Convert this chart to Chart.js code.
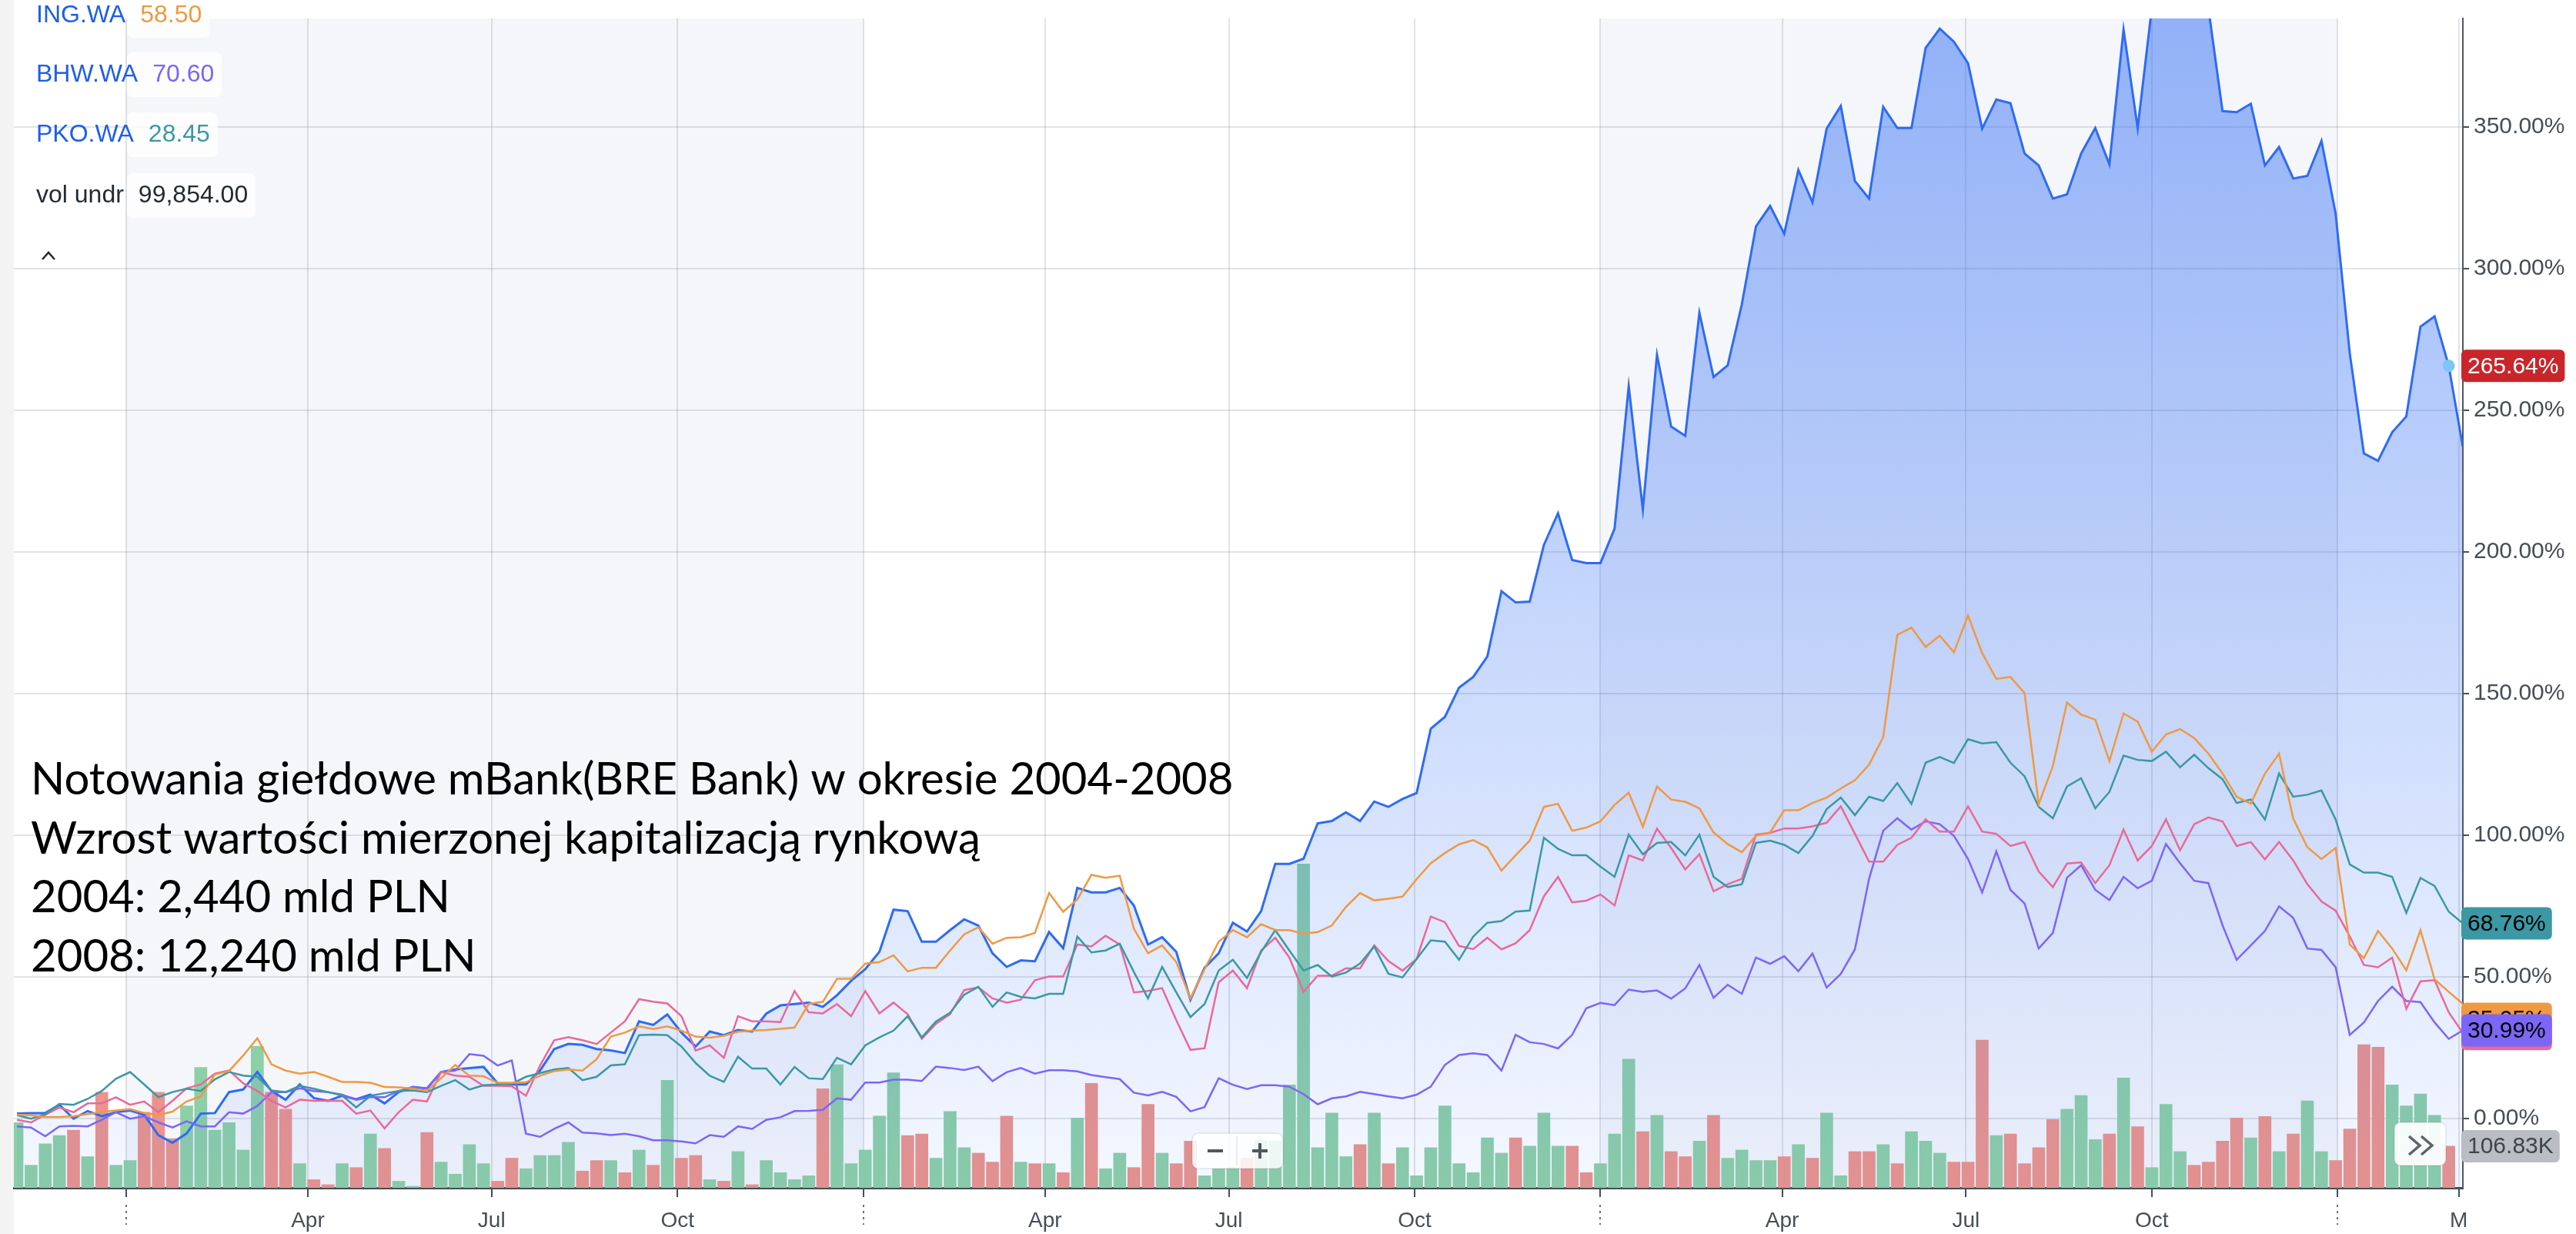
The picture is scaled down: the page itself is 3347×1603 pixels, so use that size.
<!DOCTYPE html>
<html lang="pl">
<head>
<meta charset="utf-8">
<title>Notowania mBank (BRE Bank) 2004-2008</title>
<script src="https://cdn.jsdelivr.net/npm/chart.js@4.4.1/dist/chart.umd.min.js"></script>
<style>
  html, body { margin: 0; padding: 0; background: #fff; }
  canvas { display: block; }
</style>
</head>
<body>
<canvas id="chart" width="3347" height="1603"></canvas>
<script>
// weekly points, the first one is the week of 2004-11-08
const startDay = "2004-11-08";

// % change since the start
const breVals = [
  1.6, 1.8, 1.8, 4.7, -0.2, 2.5, 0.7, 2.1, 2.7, 1.2,
  -6.0, -8.7, -5.4, 1.6, 1.8, 9.2, 10.1, 16.3, 9.6, 6.5,
  11.9, 7.1, 6.1, 7.9, 6.7, 8.3, 5.2, 9.2, 11.0, 10.5,
  16.3, 17.2, 17.7, 18.1, 12.3, 11.9, 11.9, 16.8, 24.4, 26.2,
  25.9, 24.4, 23.9, 23.0, 34.2, 32.9, 36.6, 30.2, 25.3, 30.6,
  29.3, 31.1, 30.6, 36.9, 39.8, 40.3, 40.8, 39.3, 43.4, 48.5,
  52.6, 58.7, 73.6, 73.1, 62.3, 62.3, 66.4, 70.2, 68.0, 58.2,
  53.4, 55.7, 55.4, 65.7, 60.0, 81.3, 79.7, 79.7, 81.3, 75.1,
  61.3, 63.9, 58.7, 41.8, 53.1, 58.2, 69.0, 65.9, 73.1, 89.8,
  89.8, 91.6, 104.1, 104.9, 108.0, 104.9, 111.8, 109.9, 112.7, 114.8,
  137.5, 141.7, 152.0, 155.8, 163.0, 186.1, 182.1, 182.4, 202.4, 213.6,
  197.1, 196.0, 196.0, 208.1, 258.4, 214.9, 269.5, 244.2, 240.9, 284.4,
  261.7, 265.8, 287.3, 314.9, 322.1, 312.3, 334.8, 323.4, 349.4, 357.4,
  330.9, 324.7, 357.1, 349.6, 349.6, 377.9, 384.7, 380.1, 372.5, 349.4,
  359.7, 358.4, 340.6, 336.4, 324.7, 326.2, 340.6, 349.6, 336.8, 384.4,
  349.6, 392, 398, 404, 400, 392, 355.6, 355.2, 358.2, 336.4,
  342.9, 331.8, 332.7, 345.1, 319.5, 270.1, 234.7, 232.1, 242.2, 247.8,
  279.5, 283.1, 265.64, 237.0
];
const ingVals = [
  1.2, 1.0, 0.4, 0.4, 0.7, 1.4, 2.2, 2.7, 3.2, 1.8,
  1.1, 2.3, 5.9, 7.7, 15.4, 16.6, 22.1, 28.2, 19.0, 16.8,
  15.7, 16.3, 14.6, 12.8, 12.8, 12.5, 11.0, 10.9, 10.5, 9.6,
  14.1, 18.8, 15.0, 14.8, 12.5, 12.5, 12.7, 15.0, 16.6, 17.2,
  16.8, 20.8, 28.8, 30.2, 32.4, 31.5, 32.4, 30.9, 28.8, 28.4,
  29.1, 30.5, 30.9, 31.1, 31.5, 32.0, 40.3, 41.1, 49.2, 49.2,
  54.6, 55.1, 57.5, 51.8, 53.1, 53.1, 59.2, 64.9, 67.4, 61.6,
  63.7, 63.9, 65.4, 79.5, 72.9, 77.2, 85.9, 84.9, 85.6, 66.9,
  58.2, 61.0, 55.1, 42.3, 52.6, 62.3, 66.4, 63.9, 68.5, 66.4,
  66.4, 65.1, 65.7, 68.0, 74.6, 79.5, 76.9, 77.5, 78.2, 84.4,
  90.0, 93.6, 96.7, 98.2, 95.6, 87.4, 92.8, 98.0, 109.9, 111.0,
  101.5, 102.6, 104.8, 110.6, 114.9, 102.9, 117.1, 112.5, 111.7, 109.4,
  100.9, 96.8, 93.9, 99.7, 100.9, 108.7, 108.7, 111.3, 113.2, 116.4,
  119.3, 124.8, 134.5, 170.7, 173.2, 166.4, 170.4, 164.5, 177.5, 164.2,
  155.1, 155.8, 150.1, 110.9, 124.3, 146.8, 142.5, 140.7, 126.1, 142.9,
  140.0, 129.4, 135.5, 137.4, 134.2, 128.7, 121.7, 113.5, 111.0, 121.7,
  128.7, 105.8, 95.7, 91.5, 95.4, 61.3, 56.5, 66.1, 59.9, 52.2,
  66.4, 49.0, 44.6, 40.3
];
const pkoVals = [
  1.0, -0.2, 1.4, 5.0, 4.7, 6.8, 9.6, 13.9, 16.3, 11.9,
  7.4, 9.2, 10.4, 9.6, 13.7, 16.3, 15.0, 14.6, 9.8, 9.2,
  11.4, 10.4, 9.2, 8.0, 3.8, 7.9, 8.8, 9.6, 9.8, 9.2,
  11.4, 13.4, 10.1, 11.6, 11.9, 12.1, 14.6, 15.9, 17.2, 17.7,
  13.4, 14.6, 18.6, 19.0, 29.3, 29.5, 29.3, 25.3, 19.5, 15.0,
  12.8, 21.7, 17.5, 17.5, 11.9, 18.1, 14.1, 13.8, 21.3, 19.0,
  25.7, 28.5, 30.9, 36.0, 28.5, 34.1, 37.2, 43.6, 46.4, 39.3,
  44.4, 42.8, 42.3, 43.9, 43.9, 64.1, 58.5, 59.2, 61.6, 51.6,
  42.3, 53.4, 44.4, 35.7, 40.3, 52.1, 55.9, 49.5, 58.7, 66.4,
  59.2, 52.1, 54.1, 50.0, 51.4, 54.6, 60.6, 51.0, 49.7, 56.2,
  62.8, 62.3, 55.9, 64.1, 69.0, 69.6, 72.9, 73.3, 99.0, 95.1,
  92.8, 92.8, 88.8, 85.2, 100.1, 93.2, 97.2, 97.5, 92.8, 100.1,
  85.2, 81.6, 82.6, 97.2, 98.0, 96.5, 93.6, 99.7, 109.1, 113.2,
  107.0, 113.5, 112.0, 118.3, 110.9, 125.5, 127.5, 125.4, 133.8, 132.3,
  132.8, 125.5, 120.7, 109.9, 105.9, 117.1, 120.0, 109.4, 115.2, 128.0,
  126.5, 126.1, 129.4, 123.9, 128.3, 123.6, 119.7, 111.3, 112.5, 105.5,
  121.7, 113.5, 114.2, 115.7, 105.5, 89.6, 86.7, 86.7, 85.2, 72.5,
  84.8, 82.0, 72.9, 68.76
];
// fifth compared symbol (pink line), its name is cut off in the picture
const pinkVals = [
  -0.6, -1.5, 1.2, 3.8, 2.1, 5.2, 5.2, 7.4, 4.7, 5.9,
  2.1, 6.1, 10.5, 11.9, 15.7, 16.8, 12.3, 9.6, 6.1, 3.8,
  6.5, 6.1, 6.1, 6.1, 1.6, 2.7, -3.6, 2.1, 6.5, 5.9,
  16.3, 15.0, 14.6, 11.4, 11.4, 11.3, 7.9, 18.6, 27.5, 28.6,
  27.5, 26.2, 30.2, 34.2, 42.0, 41.1, 40.5, 36.0, 23.9, 25.7,
  21.3, 36.0, 34.2, 34.2, 33.9, 44.9, 37.4, 37.0, 40.3, 36.0,
  44.9, 37.0, 40.8, 36.7, 28.0, 33.3, 36.7, 45.2, 46.2, 42.3,
  40.8, 41.8, 48.7, 50.0, 50.0, 61.3, 60.6, 64.4, 61.3, 44.4,
  44.9, 45.9, 34.6, 24.1, 24.7, 48.0, 52.1, 45.9, 59.2, 63.7,
  56.7, 44.6, 50.3, 50.3, 52.9, 52.9, 61.0, 55.5, 52.1, 56.2,
  71.2, 69.2, 60.8, 59.7, 63.7, 59.6, 61.7, 66.4, 78.3, 85.2,
  76.2, 76.8, 79.0, 75.1, 92.8, 91.0, 102.2, 95.4, 87.8, 93.2,
  80.1, 82.6, 84.5, 100.1, 100.7, 102.3, 102.3, 103.0, 104.3, 110.1,
  100.4, 90.6, 90.6, 96.5, 99.0, 105.5, 101.2, 101.2, 110.1, 101.2,
  100.4, 96.1, 97.5, 87.1, 81.6, 89.9, 90.3, 83.0, 89.3, 101.9,
  91.0, 96.1, 105.5, 94.6, 103.8, 106.2, 104.8, 96.1, 97.5, 91.4,
  97.5, 91.0, 82.6, 76.5, 73.3, 64.2, 54.1, 53.3, 56.7, 38.6,
  48.3, 48.7, 37.4, 30.1
];
const bhwVals = [
  -2.9, -3.3, -6.4, -2.9, -2.7, -2.9, -0.6, 2.1, -0.2, 0.7,
  -1.5, -3.3, -1.1, -2.9, -2.9, 2.1, 1.6, 4.3, 9.2, 9.2,
  10.5, 9.6, 9.2, 8.3, 6.5, 7.4, 7.4, 9.6, 11.0, 10.5,
  16.3, 16.8, 22.6, 22.0, 18.6, 20.4, -5.5, -6.6, -3.8, -1.5,
  -5.1, -5.4, -6.0, -5.5, -6.4, -7.8, -7.8, -8.2, -8.9, -6.0,
  -6.6, -2.9, -3.8, -0.6, 0.3, 2.5, 2.6, 2.9, 7.0, 6.5,
  12.6, 12.6, 13.6, 13.6, 13.1, 18.2, 17.7, 17.0, 18.2, 13.1,
  16.2, 17.7, 15.7, 16.9, 16.9, 16.5, 15.2, 14.5, 13.8, 9.0,
  8.0, 9.3, 7.5, 2.4, 3.9, 14.1, 11.8, 10.3, 11.6, 11.6,
  11.1, 8.5, 4.9, 7.0, 7.7, 9.3, 8.5, 7.7, 7.0, 8.3,
  11.1, 18.8, 22.3, 22.9, 22.3, 16.8, 29.4, 26.8, 26.2, 24.6,
  29.4, 38.8, 40.7, 39.9, 45.4, 44.6, 45.1, 42.2, 45.8, 54.1,
  42.5, 47.1, 43.9, 56.7, 54.5, 57.2, 51.9, 58.1, 46.1, 50.9,
  59.6, 84.5, 101.5, 105.9, 101.9, 104.8, 103.8, 99.7, 91.5, 79.7,
  94.2, 80.6, 75.8, 59.9, 65.4, 84.9, 89.3, 80.6, 77.0, 85.2,
  81.2, 83.8, 96.8, 90.0, 83.8, 83.0, 68.1, 55.9, 61.0, 66.1,
  74.8, 70.7, 59.9, 59.4, 53.3, 29.4, 33.8, 41.4, 46.4, 41.4,
  41.0, 33.8, 28.0, 30.99
];

// weekly volume in thousands, and whether the week closed up (1) or down (0)
const volK = [
  167, 58, 113, 134, 148, 80, 245, 58, 70, 194,
  245, 126, 210, 309, 148, 167, 97, 363, 245, 202,
  62, 21, 8, 62, 52, 138, 101, 17, 4, 142,
  66, 35, 111, 62, 17, 76, 49, 83, 83, 117,
  43, 70, 70, 39, 97, 58, 276, 76, 83, 21,
  17, 93, 8, 70, 39, 21, 31, 254, 316, 62,
  97, 184, 295, 134, 138, 76, 196, 103, 89, 66,
  184, 66, 62, 62, 39, 179, 268, 49, 89, 52,
  214, 89, 62, 120, 31, 49, 52, 76, 122, 120,
  264, 831, 103, 192, 80, 111, 192, 62, 103, 31,
  103, 210, 62, 39, 128, 89, 128, 107, 192, 107,
  107, 39, 62, 138, 330, 144, 186, 93, 80, 120,
  186, 76, 97, 70, 70, 80, 111, 76, 192, 31,
  93, 93, 111, 62, 144, 120, 89, 66, 66, 379,
  134, 138, 62, 103, 175, 202, 237, 124, 138, 282,
  157, 52, 214, 93, 58, 66, 120, 179, 128, 183,
  93, 138, 223, 93, 70, 151, 367, 361, 264, 210,
  241, 186, 106.83, null
];
const volUp = [
  1, 1, 1, 1, 0, 1, 0, 1, 1, 0,
  0, 0, 1, 1, 1, 1, 1, 1, 0, 0,
  1, 0, 0, 1, 0, 1, 0, 1, 1, 0,
  1, 1, 1, 1, 0, 0, 1, 1, 1, 1,
  0, 0, 1, 0, 1, 0, 1, 0, 0, 1,
  0, 1, 0, 1, 1, 1, 1, 0, 1, 1,
  1, 1, 1, 0, 0, 1, 1, 1, 0, 0,
  0, 1, 0, 1, 0, 1, 0, 1, 1, 0,
  0, 1, 0, 0, 1, 1, 1, 0, 1, 1,
  1, 1, 1, 1, 1, 0, 1, 0, 1, 1,
  1, 1, 1, 1, 1, 1, 0, 1, 1, 1,
  0, 0, 1, 1, 1, 0, 1, 0, 0, 1,
  0, 1, 1, 1, 1, 0, 1, 0, 1, 1,
  0, 0, 1, 0, 1, 1, 1, 0, 0, 0,
  1, 0, 0, 0, 0, 1, 1, 1, 0, 1,
  0, 1, 1, 1, 0, 0, 0, 0, 1, 0,
  1, 0, 1, 1, 0, 0, 0, 0, 1, 1,
  1, 1, 0, 0
];

const tickDates = ["2005-01-01", "2005-04-01", "2005-07-01", "2005-10-01",
  "2006-01-01", "2006-04-01", "2006-07-01", "2006-10-01",
  "2007-01-01", "2007-04-01", "2007-07-01", "2007-10-01",
  "2008-01-01", "2008-03-01"];
const tickLabels = ["", "Apr", "Jul", "Oct", "", "Apr", "Jul", "Oct", "", "Apr", "Jul", "Oct", "", "M"];
const yTicks = [0, 50, 100, 150, 200, 250, 300, 350];
const shadedYears = [["2005-01-01", "2006-01-01"], ["2007-01-01", "2008-01-01"]];

const legendNames = ["ING.WA", "BHW.WA", "PKO.WA", "vol undr"];
const legendValues = ["58.50", "70.60", "28.45", "99,854.00"];

// values shown in the tags on the right edge
const hoverIndex = 172;
const tagIng = 35.05;
const tagPink = 29.71;

const titleLines = [
  "Notowania giełdowe mBank(BRE Bank) w okresie 2004-2008",
  "Wzrost wartości mierzonej kapitalizacją rynkową",
  "2004: 2,440 mld PLN",
  "2008: 12,240 mld PLN"
];

const C = {
  bre: "#2e6bf4", ing: "#ef9942", pko: "#3b98a4", pink: "#e8699b", bhw: "#7c66f6",
  up: "#8dcfa6", down: "#ec938b", axis: "#464e56", grid: "rgba(140,146,158,0.26)"
};
const FONT = '"Liberation Sans", Arial, sans-serif';

const weekOf = d => (Date.parse(d) - Date.parse(startDay)) / (7 * 86400000);
const pts = vals => vals.map((v, i) => ({ x: i, y: v }));

function rrect(ctx, x, y, w, h, r) {
  ctx.beginPath();
  ctx.moveTo(x + r, y);
  ctx.arcTo(x + w, y, x + w, y + h, r);
  ctx.arcTo(x + w, y + h, x, y + h, r);
  ctx.arcTo(x, y + h, x, y, r);
  ctx.arcTo(x, y, x + w, y, r);
  ctx.closePath();
}

const backdrop = {
  id: "backdrop",
  beforeDraw(chart) {
    const { ctx, chartArea: a } = chart;
    const x = chart.scales.x;
    ctx.save();
    ctx.fillStyle = "#ffffff";
    ctx.fillRect(0, 0, chart.width, chart.height);
    ctx.fillStyle = "#f3f3f4";
    ctx.fillRect(0, 0, a.left, chart.height);
    ctx.fillStyle = "#f5f6fa";
    shadedYears.forEach(([s, e]) => {
      const x0 = x.getPixelForValue(weekOf(s));
      const x1 = Math.min(x.getPixelForValue(weekOf(e)), a.right);
      ctx.fillRect(x0, a.top, x1 - x0, a.bottom - a.top);
    });
    ctx.restore();
  }
};

const overlay = {
  id: "overlay",
  afterDraw(chart) {
    const { ctx, chartArea: a } = chart;
    const { x, y, yv } = chart.scales;
    ctx.save();

    // white strip cut off at the top
    ctx.fillStyle = "#ffffff";
    ctx.fillRect(287, 0, 2185, 13);

    // dotted continuation of the year ticks
    ctx.strokeStyle = "#6b737a";
    ctx.lineWidth = 2;
    ctx.setLineDash([3, 5]);
    tickDates.forEach((d, k) => {
      if (tickLabels[k] !== "") return;
      const px = Math.round(x.getPixelForValue(weekOf(d)));
      ctx.beginPath();
      ctx.moveTo(px, a.bottom + 22);
      ctx.lineTo(px, a.bottom + 48);
      ctx.stroke();
    });
    ctx.setLineDash([]);

    // legend in the top left corner
    const valColors = [C.ing, C.bhw, C.pko, "#232a31"];
    const rowY = [20, 97, 175, 254];
    ctx.font = "32px " + FONT;
    ctx.textBaseline = "middle";
    legendNames.forEach((name, k) => {
      const cy = rowY[k];
      const vx = 47 + ctx.measureText(name).width + 19;
      const vw = ctx.measureText(legendValues[k]).width;
      ctx.fillStyle = "rgba(255,255,255,0.8)";
      rrect(ctx, 165, cy - 29, vx + vw + 10 - 165, 58, 8);
      ctx.fill();
      ctx.fillStyle = k < 3 ? "#1d5fea" : "#232a31";
      ctx.fillText(name, 47, cy);
      ctx.fillStyle = valColors[k];
      ctx.fillText(legendValues[k], vx, cy);
    });
    ctx.strokeStyle = "#232a31";
    ctx.lineWidth = 2.5;
    ctx.beginPath();
    ctx.moveTo(55, 337); ctx.lineTo(63, 328); ctx.lineTo(71, 337);
    ctx.stroke();

    // annotation text
    ctx.fillStyle = "#000000";
    ctx.font = "100px Lato";
    const size = 100 * 1564 / ctx.measureText(titleLines[0]).width;
    ctx.font = size.toFixed(1) + "px Lato";
    ctx.textBaseline = "alphabetic";
    [1032, 1109, 1185, 1262].forEach((by, k) => ctx.fillText(titleLines[k], 40, by));

    // tags on the right edge
    const tag = (py, text, bg, fg) => {
      ctx.font = "30px " + FONT;
      const w = ctx.measureText(text).width + 16;
      ctx.fillStyle = bg;
      rrect(ctx, a.right - 2, py - 21, w, 42, 6);
      ctx.fill();
      ctx.fillStyle = fg;
      ctx.textBaseline = "middle";
      ctx.fillText(text, a.right + 6, py + 1);
    };
    const last = breVals.length - 1;
    tag(y.getPixelForValue(breVals[hoverIndex]), breVals[hoverIndex].toFixed(2) + "%", "#c8262b", "#ffffff");
    tag(y.getPixelForValue(pkoVals[last]), pkoVals[last].toFixed(2) + "%", C.pko, "#000000");
    tag(y.getPixelForValue(tagIng), tagIng.toFixed(2) + "%", C.ing, "#000000");
    tag(y.getPixelForValue(tagPink), tagPink.toFixed(2) + "%", C.pink, "#000000");
    tag(y.getPixelForValue(bhwVals[last]), bhwVals[last].toFixed(2) + "%", C.bhw, "#000000");
    tag(yv.getPixelForValue(volK[hoverIndex]), volK[hoverIndex].toFixed(2) + "K", "#babdc4", "#3e464d");

    // hover dot on the main line
    ctx.fillStyle = "#7ec5fb";
    ctx.beginPath();
    ctx.arc(x.getPixelForValue(hoverIndex), y.getPixelForValue(breVals[hoverIndex]), 8, 0, Math.PI * 2);
    ctx.fill();

    // zoom buttons
    ctx.fillStyle = "rgba(255,255,255,0.85)";
    rrect(ctx, 1549, 1472, 118, 46, 8);
    ctx.fill();
    ctx.strokeStyle = "rgba(0,0,0,0.07)";
    ctx.lineWidth = 2;
    ctx.stroke();
    ctx.beginPath(); ctx.moveTo(1607, 1476); ctx.lineTo(1607, 1514); ctx.stroke();
    ctx.strokeStyle = "#50575e";
    ctx.lineWidth = 4;
    ctx.beginPath();
    ctx.moveTo(1569, 1495); ctx.lineTo(1589, 1495);
    ctx.moveTo(1627, 1495); ctx.lineTo(1647, 1495);
    ctx.moveTo(1637, 1485); ctx.lineTo(1637, 1505);
    ctx.stroke();

    // scroll button
    ctx.fillStyle = "rgba(255,255,255,0.92)";
    rrect(ctx, 3111, 1458, 67, 56, 8);
    ctx.fill();
    ctx.strokeStyle = "rgba(0,0,0,0.07)";
    ctx.lineWidth = 2;
    ctx.stroke();
    ctx.strokeStyle = "#5c646b";
    ctx.lineWidth = 3.5;
    ctx.beginPath();
    ctx.moveTo(3130, 1476); ctx.lineTo(3144, 1488); ctx.lineTo(3130, 1500);
    ctx.moveTo(3146, 1476); ctx.lineTo(3160, 1488); ctx.lineTo(3146, 1500);
    ctx.stroke();

    ctx.restore();
  }
};

Chart.defaults.font.family = FONT;

new Chart(document.getElementById("chart"), {
  type: "line",
  data: {
    datasets: [
      {
        label: "ING.WA", data: pts(ingVals), borderColor: C.ing, borderWidth: 2.5,
        pointRadius: 0, fill: false, order: 0
      },
      {
        label: "PKO.WA", data: pts(pkoVals), borderColor: C.pko, borderWidth: 2.5,
        pointRadius: 0, fill: false, order: 0
      },
      {
        label: "", data: pts(pinkVals), borderColor: C.pink, borderWidth: 2.5,
        pointRadius: 0, fill: false, order: 0
      },
      {
        label: "BHW.WA", data: pts(bhwVals), borderColor: C.bhw, borderWidth: 2.5,
        pointRadius: 0, fill: false, order: 0
      },
      {
        label: "BRE.WA", data: pts(breVals), borderColor: C.bre, borderWidth: 3,
        pointRadius: 0, order: 1, fill: "start",
        backgroundColor: (c) => {
          const area = c.chart.chartArea;
          if (!area) return "rgba(47,108,245,0.25)";
          const g = c.chart.ctx.createLinearGradient(0, area.top, 0, area.bottom);
          g.addColorStop(0, "rgba(47,108,245,0.5)");
          g.addColorStop(1, "rgba(47,108,245,0.05)");
          return g;
        }
      },
      {
        type: "bar", label: "vol undr", yAxisID: "yv", order: 5,
        data: volK.map((v, i) => ({ x: i, y: v })),
        backgroundColor: volUp.map(u => (u ? C.up : C.down)),
        barThickness: 16
      }
    ]
  },
  options: {
    responsive: false,
    devicePixelRatio: 1,
    animation: false,
    layout: { padding: { left: 18, right: 0, top: 0, bottom: 0 } },
    plugins: {
      legend: { display: false },
      tooltip: { enabled: false }
    },
    scales: {
      x: {
        type: "linear",
        offset: false,
        min: -0.22,
        max: 173.0,
        afterBuildTicks: (s) => { s.ticks = tickDates.map(d => ({ value: weekOf(d) })); },
        afterFit: (s) => { s.height = 60; },
        ticks: {
          autoSkip: false, maxRotation: 0, minRotation: 0, padding: 14,
          color: C.axis, font: { size: 28 },
          callback: (v, idx) => tickLabels[idx]
        },
        grid: { offset: false, color: C.grid, lineWidth: 2, tickLength: 12, tickColor: C.axis, tickWidth: 2 },
        border: { color: C.axis, width: 3 }
      },
      y: {
        type: "linear",
        position: "right",
        min: -24.6,
        max: 388.3,
        afterBuildTicks: (s) => { s.ticks = yTicks.map(v => ({ value: v })); },
        afterFit: (s) => { s.width = 147; },
        ticks: {
          padding: 6, color: C.axis, font: { size: 30 },
          callback: v => v.toFixed(2) + "%"
        },
        grid: { color: C.grid, lineWidth: 2, tickLength: 8, tickColor: C.axis, tickWidth: 2 },
        border: { color: "#50575e", width: 2 }
      },
      yv: {
        type: "linear",
        display: false,
        min: 0,
        max: 3000
      }
    }
  },
  plugins: [backdrop, overlay]
});
</script>
</body>
</html>
